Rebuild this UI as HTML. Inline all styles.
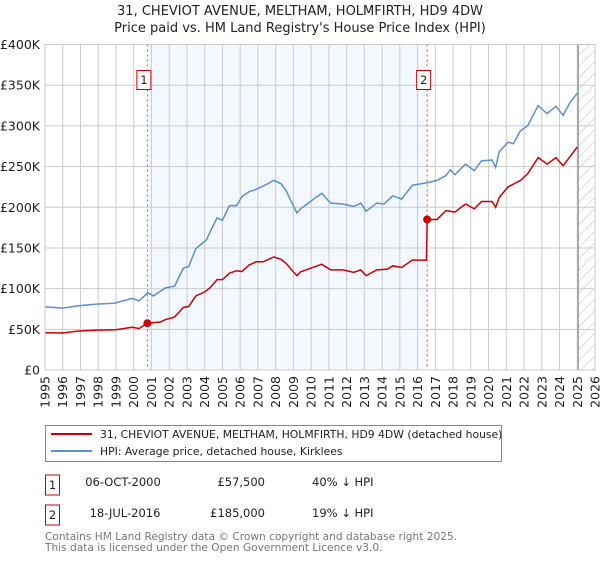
<!DOCTYPE html>
<html><head><meta charset="utf-8"><style>
body{margin:0;background:#fff;font-family:"Liberation Sans","DejaVu Sans",sans-serif;}
svg text{font-family:"DejaVu Sans","Liberation Sans",sans-serif;}
</style></head><body>
<svg id="c" width="600" height="560" xmlns="http://www.w3.org/2000/svg">
<text x="300" y="15" text-anchor="middle" font-size="13" fill="#222">31, CHEVIOT AVENUE, MELTHAM, HOLMFIRTH, HD9 4DW</text>
<text x="300" y="32" text-anchor="middle" font-size="13" fill="#222">Price paid vs. HM Land Registry's House Price Index (HPI)</text>
<g id="plot"></g>
<g>
<rect x="45.5" y="425.5" width="456" height="36" fill="#fff" stroke="#888"/>
<line x1="51" y1="434" x2="92" y2="434" stroke="#cc0000" stroke-width="2"/>
<text x="100" y="438" font-size="10.8" fill="#222">31, CHEVIOT AVENUE, MELTHAM, HOLMFIRTH, HD9 4DW (detached house)</text>
<line x1="51" y1="451" x2="92" y2="451" stroke="#5b8fd0" stroke-width="2"/>
<text x="100" y="455" font-size="10.8" fill="#222">HPI: Average price, detached house, Kirklees</text>
</g>
<g font-size="11.5" fill="#222">
<rect x="45.5" y="475" width="14" height="20" fill="#fff" stroke="#cc0000"/>
<text x="52.5" y="489" text-anchor="middle">1</text>
<text x="123" y="486" text-anchor="middle">06-OCT-2000</text>
<text x="265" y="486" text-anchor="end">£57,500</text>
<text x="312" y="486">40% ↓ HPI</text>
<rect x="45.5" y="505" width="14" height="20" fill="#fff" stroke="#cc0000"/>
<text x="52.5" y="519" text-anchor="middle">2</text>
<text x="125" y="517" text-anchor="middle">18-JUL-2016</text>
<text x="265" y="517" text-anchor="end">£185,000</text>
<text x="312" y="517">19% ↓ HPI</text>
</g>
<text x="45" y="540" font-size="10.6" fill="#777">Contains HM Land Registry data © Crown copyright and database right 2025.</text>
<text x="45" y="551" font-size="10.6" fill="#777">This data is licensed under the Open Government Licence v3.0.</text>
</svg>
<script>
const hpiYears=[1995.0,1996.0,1996.9,1997.9,1998.9,1999.9,2000.3,2000.8,2001.1,2001.8,2002.3,2002.8,2003.1,2003.5,2004.1,2004.4,2004.7,2005.0,2005.4,2005.8,2006.1,2006.5,2006.9,2007.3,2007.9,2008.3,2008.6,2008.9,2009.2,2009.4,2010.2,2010.6,2011.1,2011.8,2012.4,2012.8,2013.1,2013.7,2014.1,2014.6,2015.1,2015.7,2016.5,2017.1,2017.6,2017.85,2018.1,2018.7,2019.2,2019.6,2020.2,2020.4,2020.6,2021.1,2021.4,2021.8,2022.2,2022.8,2023.3,2023.8,2024.2,2024.6,2025.0];
const hpiValues=[77.7,76,79,81,82,88,85,95,91,101,103,125,127,149,160,174,187,184,202,202,213,219,222,226,233,229,220,206,193,198,211,217,205,204,201,205,195,205,204,214,210,227,230,233,239,246,240,253,245,257,258,249,268,280,278,294,300,325,315,324,313,329,340];
const priceYears=[1995.0,1996.0,1996.9,1998.0,1999.0,1999.9,2000.3,2000.77,2001.5,2001.8,2002.3,2002.8,2003.1,2003.5,2004.0,2004.3,2004.7,2005.0,2005.4,2005.8,2006.1,2006.5,2006.9,2007.3,2007.9,2008.3,2008.6,2008.9,2009.2,2009.4,2010.6,2011.1,2011.8,2012.4,2012.8,2013.1,2013.7,2014.3,2014.6,2015.1,2015.7,2016.5,2016.54,2017.1,2017.6,2018.1,2018.7,2019.2,2019.6,2020.2,2020.4,2020.6,2021.1,2021.8,2022.2,2022.8,2023.3,2023.8,2024.2,2025.0];
const priceValues=[45.8,45.4,48,49,49.5,52.5,51,57.5,59,62,65,77,78,91,96,101,111,111,119,122,121,129,133,133,139,136,131,123,116,120.6,130,123,123,120,123,116,123,124,128,126,135,135,185,185,196,194,204,198,207,207,200,212,225,233,241,261,253,261,251,274];
const saleYears=[2000.77,2016.54];
const saleValues=[57.5,185];
const saleLabels=["1","2"];
const yTicks=[0,50,100,150,200,250,300,350,400];
const yTickLabels=["£0","£50K","£100K","£150K","£200K","£250K","£300K","£350K","£400K"];
const xTicks=[1995,1996,1997,1998,1999,2000,2001,2002,2003,2004,2005,2006,2007,2008,2009,2010,2011,2012,2013,2014,2015,2016,2017,2018,2019,2020,2021,2022,2023,2024,2025,2026];
const forecastStart=2025.05;

const X0=45,X1=595,Y0=370,Y1=44.5;
const xs=y=>X0+(y-1995)/(2026-1995)*(X1-X0);
const ys=v=>Y0-v/400*(Y0-Y1);
const NS="http://www.w3.org/2000/svg";
const g=document.getElementById('plot');
function mk(t,a){const e=document.createElementNS(NS,t);for(const k in a)e.setAttribute(k,a[k]);g.appendChild(e);return e;}
const defs=mk('defs',{});
defs.innerHTML='<pattern id="hatch" width="8" height="8" patternUnits="userSpaceOnUse" patternTransform="rotate(45)"><line x1="0" y1="0" x2="0" y2="8" stroke="#bbb" stroke-width="1"/></pattern>';
let sh=mk('rect',{x:xs(saleYears[0]),y:Y1,width:xs(saleYears[1])-xs(saleYears[0]),height:Y0-Y1,fill:'#eef3fd',opacity:0.7});


let ht=mk('rect',{x:xs(forecastStart),y:Y1,width:X1-xs(forecastStart),height:Y0-Y1,fill:'url(#hatch)'});


xTicks.forEach(t=>{
  const l=mk('line',{x1:xs(t),x2:xs(t),y1:Y1,y2:Y0,stroke:'#ccc','stroke-width':1});
  
  
  const tx=mk('text',{x:0,y:0,transform:`translate(${xs(t)+4.5},${Y0+6}) rotate(-90)`,'text-anchor':'end','font-size':12.5,fill:'#222'});
  tx.textContent=t;
  
  
});
yTicks.forEach((t,i)=>{
  const l=mk('line',{x1:X0,x2:X1,y1:ys(t),y2:ys(t),stroke:'#ccc','stroke-width':1});
  
  
  const tx=mk('text',{x:X0-5,y:ys(t)+4.5,'text-anchor':'end','font-size':12.5,fill:'#222'});
  tx.textContent=yTickLabels[i];
  
  
});
let fl=mk('line',{x1:xs(forecastStart),x2:xs(forecastStart),y1:Y1,y2:Y0,stroke:'#888','stroke-width':1.2});


saleYears.forEach((y,i)=>{
  const l=mk('line',{x1:xs(y),x2:xs(y),y1:Y1,y2:Y0,stroke:'#e05050','stroke-width':1,'stroke-dasharray':'2,3'});
  
  
  const r=mk('rect',{x:xs(y)-10.5,y:70.5,width:14,height:19,fill:'#fff',stroke:'#cc0000'});
  
  
  const t=mk('text',{x:xs(y)-3.5,y:84,'text-anchor':'middle','font-size':11.5,fill:'#222'});
  t.textContent=saleLabels[i];
  
  
});
const hp=mk('polyline',{points:hpiYears.map((y,i)=>xs(y)+','+ys(hpiValues[i])).join(' '),fill:'none',stroke:'#5b8fd0','stroke-width':1.5});


const pp=mk('polyline',{points:priceYears.map((y,i)=>xs(y)+','+ys(priceValues[i])).join(' '),fill:'none',stroke:'#cc0000','stroke-width':1.5});


saleYears.forEach((y,i)=>{
  const c=mk('circle',{cx:xs(y),cy:ys(saleValues[i]),r:4,fill:'#cc0000'});
  
  
});
let fr=mk('rect',{x:X0,y:Y1,width:X1-X0,height:Y0-Y1,fill:'none',stroke:'#ccc'});


</script>
</body></html>
